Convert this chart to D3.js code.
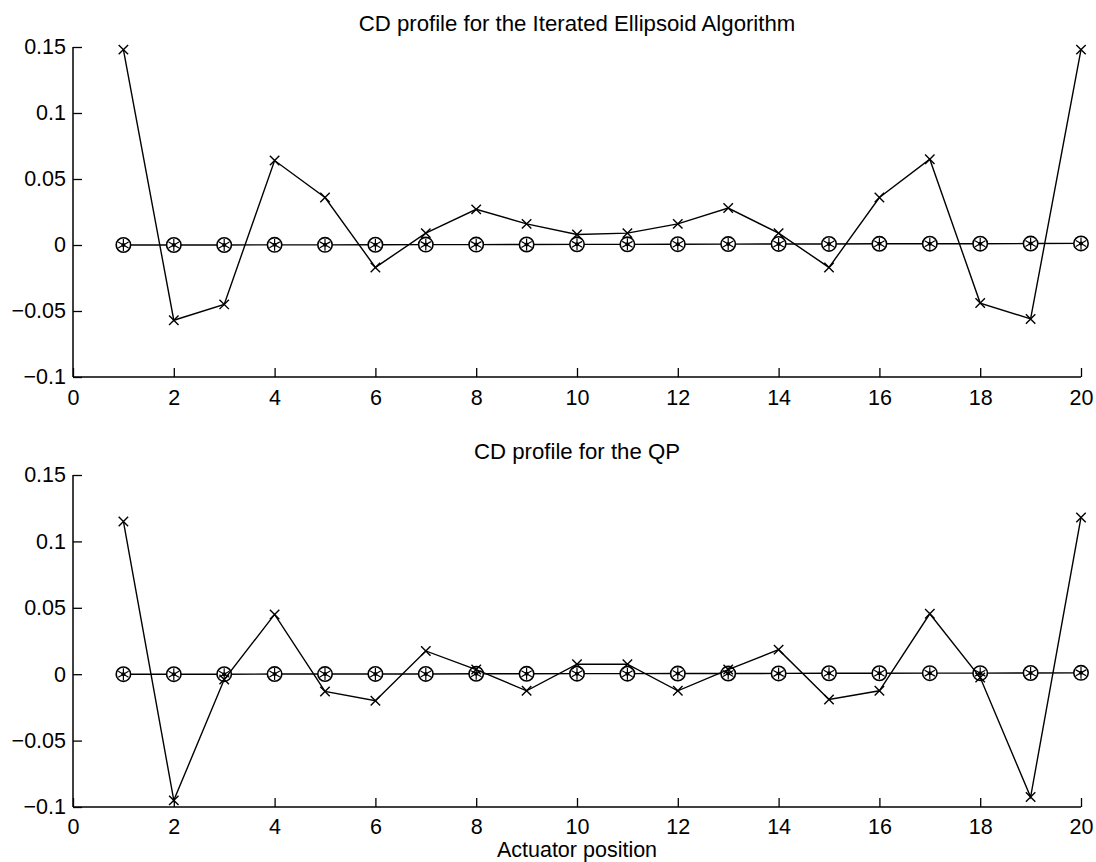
<!DOCTYPE html>
<html>
<head>
<meta charset="utf-8">
<script src="https://cdn.jsdelivr.net/npm/d3@7"></script>
<style>
    body{ margin: 0; background: #ffffff; }
    svg text{ font-family: "Liberation Sans", Arial, Helvetica, sans-serif; fill: #000; }
</style>
</head>
<body>
<div id="chart"></div>
<script>
// ****************************************************************************
// ******************************** DATOS *************************************
// ****************************************************************************

const actuators = [1, 2, 3, 4, 5, 6, 7, 8, 9, 10, 11, 12, 13, 14, 15, 16, 17, 18, 19, 20];

// Perfil CD con el algoritmo de elipsoide iterado (marcador x)
const ellipsoid_profile = [0.148, -0.057, -0.045, 0.064, 0.036, -0.017, 0.009, 0.027, 0.016, 0.008,
                           0.009, 0.016, 0.028, 0.009, -0.017, 0.036, 0.065, -0.044, -0.056, 0.148];
// Perfil de referencia (marcador o / *), casi cero
const ellipsoid_ref = [0.0, 0.0, 0.0, 0.0001, 0.0001, 0.0002, 0.0003, 0.0003, 0.0004, 0.0005,
                       0.0005, 0.0006, 0.0007, 0.0008, 0.0008, 0.0009, 0.001, 0.001, 0.0011, 0.0012];

// Perfil CD con QP
const qp_profile = [0.115, -0.095, -0.004, 0.045, -0.013, -0.020, 0.0175, 0.0035, -0.0125, 0.0075,
                    0.0075, -0.0125, 0.0035, 0.0185, -0.019, -0.0125, 0.0455, -0.0025, -0.0925, 0.118];
const qp_ref = [0.0, 0.0, 0.0, 0.0001, 0.0001, 0.0002, 0.0002, 0.0003, 0.0003, 0.0004,
                0.0004, 0.0005, 0.0005, 0.0006, 0.0007, 0.0007, 0.0008, 0.0008, 0.0009, 0.001];

const x_ticks = [0, 2, 4, 6, 8, 10, 12, 14, 16, 18, 20];
const y_ticks = [-0.1, -0.05, 0, 0.05, 0.1, 0.15];
const y_tick_labels = ["\u22120.1", "\u22120.05", "0", "0.05", "0.1", "0.15"];

const titles = ["CD profile for the Iterated Ellipsoid Algorithm", "CD profile for the QP"];
const x_label = "Actuator position";

// ****************************************************************************
// ******************************* GRAFICO ************************************
// ****************************************************************************

const W = 1096, H = 862;
const left = 73, right = 1081;
const tick_len = 9;

const svg = d3.select("#chart").append("svg")
    .attr("width", W)
    .attr("height", H);

/**
 * Dibuja un panel con su título, ejes y las dos series.
 */
function draw_panel(top, bottom, title, profile, ref, with_xlabel){

    const x = d3.scaleLinear().domain([0, 20]).range([left, right]);
    const y = d3.scaleLinear().domain([-0.1, 0.15]).range([bottom, top]);

    const g = svg.append("g");

    // ejes (ticks hacia dentro, estilo matlab)
    g.append("g")
        .attr("transform", "translate(0," + bottom + ")")
        .call(d3.axisBottom(x).tickValues(x_ticks).tickSize(-tick_len)
            .tickPadding(with_xlabel ? 12 : 13))
        .call(a => a.select(".domain").remove());
    g.append("g")
        .attr("transform", "translate(" + left + ",0)")
        .call(d3.axisLeft(y).tickValues(y_ticks).tickSize(-tick_len).tickPadding(7)
            .tickFormat((d, i) => y_tick_labels[i]))
        .call(a => a.select(".domain").remove());

    g.selectAll(".tick line").attr("stroke", "#000").attr("stroke-width", 1.3);
    g.selectAll(".tick text").style("font-size", "21.5px");

    g.append("line")
        .attr("x1", left).attr("x2", right)
        .attr("y1", bottom).attr("y2", bottom)
        .attr("stroke", "#000").attr("stroke-width", 1.5);
    g.append("line")
        .attr("x1", left).attr("x2", left)
        .attr("y1", top).attr("y2", bottom)
        .attr("stroke", "#000").attr("stroke-width", 1.5);

    // título
    g.append("text")
        .attr("x", (left + right) / 2)
        .attr("y", top - 16)
        .attr("text-anchor", "middle")
        .style("font-size", "22.2px")
        .text(title);

    const line = d3.line()
        .x((d, i) => x(actuators[i]))
        .y(d => y(d));

    // serie de referencia (o y *)
    g.append("path")
        .datum(ref)
        .attr("d", line)
        .attr("fill", "none")
        .attr("stroke", "#000")
        .attr("stroke-width", 1.4);

    const ref_pts = g.selectAll(".ref")
        .data(ref)
        .enter()
        .append("g")
        .attr("class", "ref")
        .attr("transform", (d, i) => "translate(" + x(actuators[i]) + "," + y(d) + ")");
    ref_pts.append("circle")
        .attr("r", 7.2)
        .attr("fill", "#fff")
        .attr("stroke", "#000")
        .attr("stroke-width", 1.6);
    ref_pts.append("path")
        .attr("d", d3.symbol(d3.symbolAsterisk, 100))
        .attr("fill", "none")
        .attr("stroke", "#000")
        .attr("stroke-width", 1.2);
    ref_pts.append("circle").attr("r", 2).attr("fill", "#000");

    // serie principal (x)
    g.append("path")
        .datum(profile)
        .attr("d", line)
        .attr("fill", "none")
        .attr("stroke", "#000")
        .attr("stroke-width", 1.4);

    g.selectAll(".cross")
        .data(profile)
        .enter()
        .append("path")
        .attr("class", "cross")
        .attr("transform", (d, i) => "translate(" + x(actuators[i]) + "," + y(d) + ")")
        .attr("d", d3.symbol(d3.symbolTimes, 60))
        .attr("fill", "none")
        .attr("stroke", "#000")
        .attr("stroke-width", 1.4);

    if(with_xlabel){
        g.append("text")
            .attr("x", (left + right) / 2)
            .attr("y", bottom + 50)
            .attr("text-anchor", "middle")
            .style("font-size", "21.5px")
            .text(x_label);
    }
}

draw_panel(47, 377, titles[0], ellipsoid_profile, ellipsoid_ref, false);
draw_panel(475, 807, titles[1], qp_profile, qp_ref, true);
</script>
</body>
</html>
